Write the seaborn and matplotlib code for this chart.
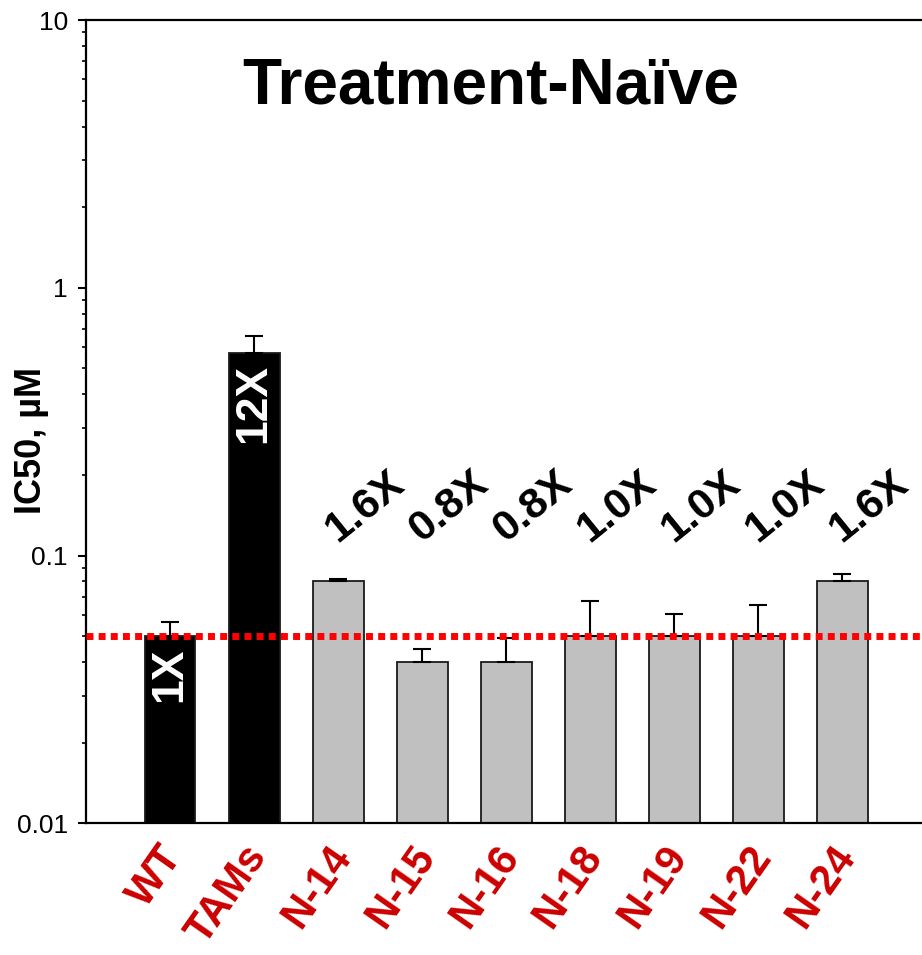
import numpy as np
import pandas as pd
import matplotlib
matplotlib.use("Agg")
import matplotlib.pyplot as plt
import matplotlib.ticker as mticker
import matplotlib.transforms as mtransforms
import seaborn as sns

# IC50 data (µM) for wild type, TAMs and treatment-naive isolates
samples = ["WT", "TAMs", "N-14", "N-15", "N-16", "N-18", "N-19", "N-22", "N-24"]
ic50 = [0.050, 0.572, 0.080, 0.040, 0.040, 0.050, 0.050, 0.050, 0.080]
ic50_upper = [0.0563, 0.660, 0.0817, 0.0447, 0.0493, 0.0676, 0.0605, 0.0655, 0.0851]
fold_labels = ["1X", "12X", "1.6X", "0.8X", "0.8X", "1.0X", "1.0X", "1.0X", "1.6X"]
reference_ic50 = 0.05
ytick_values = [0.01, 0.1, 1, 10]
ytick_labels = ["0.01", "0.1", "1", "10"]

sns.set_theme(style="white")
plt.rcParams["font.family"] = ["Liberation Sans", "DejaVu Sans"]
plt.rcParams["text.color"] = "black"
plt.rcParams["axes.labelcolor"] = "black"
plt.rcParams["xtick.color"] = "black"
plt.rcParams["ytick.color"] = "black"

df = pd.DataFrame({"sample": samples, "ic50": ic50})
bar_colors = ["#000000", "#000000"] + ["#c0c0c0"] * (len(samples) - 2)

fig = plt.figure(figsize=(9.22, 9.55), dpi=100)
ax = fig.add_axes([86 / 922, 1 - 823.3 / 955, 1 - 86 / 922, (823.3 - 20) / 955])
ax.set_yscale("log")

sns.barplot(data=df, x="sample", y="ic50", hue="sample", palette=bar_colors,
            legend=False, width=0.607, edgecolor="#1a1a1a", linewidth=1.3,
            ax=ax, zorder=2)

xpos = np.arange(len(samples))
vals = np.array(ic50)
upper = np.array(ic50_upper) - vals
ax.errorbar(xpos, vals, yerr=[np.zeros_like(vals), upper], fmt="none",
            ecolor="black", elinewidth=1.5, capsize=6.5, capthick=1.5, zorder=3)

# reference level (WT)
ax.axhline(reference_ic50, color="#ff0000", lw=5, linestyle=(0, (1, 0.75)),
           zorder=5)

ax.set_xlim(-1.0, 8.952)
ax.set_ylim(0.01, 10)

# fold-change labels
for i, (lab, v) in enumerate(zip(fold_labels, ic50)):
    if i < 2:
        ax.annotate(lab, (i, v), xytext=(0, -8), textcoords="offset points",
                    rotation=90, ha="center", va="top", color="white",
                    fontsize=32, fontweight="bold", zorder=6)
    else:
        ax.text(i + 0.32, 0.152, lab, rotation=39, ha="center", va="center",
                fontsize=31, fontweight="bold", color="black", zorder=6)

ax.text(0.484, 0.896, "Treatment-Naïve", transform=ax.transAxes, ha="center",
        va="baseline", fontsize=46, fontweight="bold", color="black")

# axes styling
for side in ["left", "bottom", "top"]:
    ax.spines[side].set_visible(True)
    ax.spines[side].set_color("black")
    ax.spines[side].set_linewidth(1.6)
ax.spines["right"].set_visible(False)

ax.yaxis.set_major_locator(mticker.FixedLocator(ytick_values))
ax.yaxis.set_major_formatter(mticker.FixedFormatter(ytick_labels))
ax.yaxis.set_minor_locator(mticker.LogLocator(base=10, subs=np.arange(2, 10)))
ax.yaxis.set_minor_formatter(mticker.NullFormatter())
ax.tick_params(axis="y", which="major", direction="out", length=6, width=1.5,
               labelsize=19, pad=7, left=True)
ax.tick_params(axis="y", which="minor", direction="out", length=3.2, width=1.2,
               left=True)
ax.tick_params(axis="x", length=0, pad=2)

ax.set_xlabel("")
ax.set_ylabel("IC50, µM", fontsize=26, fontweight="bold")
ax.yaxis.set_label_coords(-0.044, 0.477)

offset = mtransforms.ScaledTranslation(-8.6 / 72, -8.6 / 72, fig.dpi_scale_trans)
for lbl in ax.get_xticklabels():
    lbl.set_rotation(55)
    lbl.set_ha("right")
    lbl.set_va("top")
    lbl.set_rotation_mode("anchor")
    lbl.set_fontsize(30)
    lbl.set_fontweight("bold")
    lbl.set_color("#cc0000")
    lbl.set_transform(lbl.get_transform() + offset)

fig.savefig("out.png", dpi=100)
